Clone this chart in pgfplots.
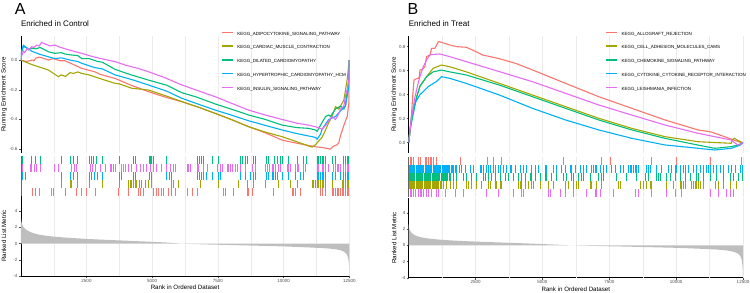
\documentclass[border=0pt]{standalone}
\usepackage{fontspec}
\setmainfont{Liberation Sans}
\usepackage{pgfplots}
\pgfplotsset{compat=1.18}

\definecolor{cR}{HTML}{F8766D}
\definecolor{cO}{HTML}{A3A500}
\definecolor{cG}{HTML}{00BF7D}
\definecolor{cB}{HTML}{00B0F6}
\definecolor{cP}{HTML}{E76BF3}
\definecolor{gridc}{HTML}{EBEBEB}
\definecolor{tickc}{HTML}{4D4D4D}
\definecolor{metric}{HTML}{BEBEBE}

\pgfplotsset{
  gsea/.style={
    scale only axis, enlargelimits=false, xmin=0, xmax=12500,
    anchor=south west, scaled x ticks=false, scaled y ticks=false,
    axis lines*=left, axis line style={-, line width=0.5pt, black},
    tick align=outside, major tick length=2.2pt,
    tick style={tickc, line width=0.4pt},
    xtick={2500,5000,7500,10000,12500},
    xmajorgrids,
    major grid style={gridc, line width=0.5pt},
    extra x ticks={1250,3750,6250,8750,11250},
    extra x tick labels={},
    extra x tick style={xmajorgrids, major grid style={gridc, line width=0.3pt}, major tick length=0pt},
    ticklabel style={font=\fontsize{4.5}{5}\selectfont, text=tickc},
    xticklabel style={inner sep=0.6pt},
    yticklabel style={inner sep=1pt},
    label style={font=\fontsize{6.2}{7}\selectfont},
  },
  nox/.style={x axis line style={draw=none}, xticklabels={}, xtick style={draw=none}},
  es/.style={line width=1.1pt},
  bc/.style={only marks, mark=|, mark size=3.6pt, mark options={line width=0.8pt}},
  leg/.style={
    legend cell align=left,
    legend image code/.code={\draw[##1, line width=1.4pt] (0pt,1.6pt) -- (11pt,1.6pt);},
    legend style={anchor=north west, draw=none, fill=none, inner sep=0pt,
      font=\fontsize{4.5}{5}\selectfont, row sep=9.3pt, column sep=4pt,
      nodes={inner sep=0pt, text height=3.3pt, text depth=0.9pt}},
  },
}

\begin{document}
\begin{tikzpicture}
\useasboundingbox (0pt,0pt) rectangle (750pt,292pt);
\node[anchor=base west, inner sep=0pt, font=\fontsize{16}{16}\selectfont] at (14.6pt,277pt) {A};
\node[anchor=base west, inner sep=0pt, font=\fontsize{16}{16}\selectfont] at (407.3pt,277pt) {B};

%================ PANEL A: running ES =================
\begin{axis}[gsea, nox, leg, at={(20.8pt,139pt)}, width=328.5pt, height=117pt,
  ymin=-0.626, ymax=0.162,
  ytick={-0.6,-0.4,-0.2,0}, yticklabels={-0.6,-0.4,-0.2,0.0},
  title={Enriched in Control},
  title style={at={(0,1)}, anchor=base west, yshift=3.7pt, inner sep=0pt, font=\fontsize{8}{9}\selectfont},
  ylabel={Running Enrichment Score},
  ylabel style={at={(axis description cs:-0.0511,0.5)}, anchor=center},
  legend style={at={(0.6085,1.0376)}}]
\addplot[es, cR] coordinates {(0,0) (200,-0.01) (439,0.0) (500,-0.005) (566,0.012) (693,0.02) (800,0.015) (1049,0.0) (1151,0.005) (1240,0.01) (1500,-0.005) (1684,-0.005) (2000,-0.03) (2320,-0.056) (2827,-0.08) (3000,-0.095) (3590,-0.124) (4200,-0.17) (4860,-0.213) (5500,-0.25) (6131,-0.281) (6800,-0.32) (7401,-0.359) (8000,-0.40) (8671,-0.449) (9300,-0.49) (9942,-0.539) (10500,-0.56) (11212,-0.584) (11500,-0.59) (11784,-0.60) (11900,-0.58) (12040,-0.57) (12101,-0.556) (12165,-0.51) (12292,-0.44) (12355,-0.41) (12420,-0.38) (12482,-0.29) (12500,0)};
\addlegendentry{KEGG\_ADIPOCYTOKINE\_SIGNALING\_PATHWAY}
\addplot[es, cO] coordinates {(0,0) (414,-0.03) (1049,-0.067) (1430,-0.112) (1532,-0.10) (1700,-0.11) (1875,-0.085) (2000,-0.09) (2167,-0.08) (2320,-0.09) (2600,-0.1) (3106,-0.13) (3590,-0.157) (3741,-0.16) (4225,-0.19) (4860,-0.202) (5500,-0.24) (6131,-0.28) (6800,-0.32) (7401,-0.36) (8000,-0.40) (8671,-0.449) (9300,-0.485) (9942,-0.516) (10500,-0.55) (10958,-0.579) (11085,-0.586) (11212,-0.57) (11466,-0.52) (11600,-0.47) (11720,-0.42) (11847,-0.38) (11974,-0.314) (12101,-0.33) (12292,-0.27) (12420,-0.13) (12500,0)};
\addlegendentry{KEGG\_CARDIAC\_MUSCLE\_CONTRACTION}
\addplot[es, cG] coordinates {(0,0) (30,0.05) (97,0.09) (200,0.085) (287,0.07) (414,0.08) (568,0.075) (732,0.085) (900,0.07) (1049,0.056) (1300,0.045) (1532,0.05) (1700,0.04) (1875,0.035) (2168,0.03) (2320,0.01) (2600,0.01) (2930,-0.01) (3106,-0.015) (3590,-0.063) (4200,-0.1) (4860,-0.135) (5560,-0.17) (6131,-0.22) (6700,-0.25) (7401,-0.296) (8000,-0.33) (8671,-0.37) (9300,-0.40) (9942,-0.438) (10500,-0.455) (10958,-0.46) (11212,-0.471) (11276,-0.48) (11400,-0.44) (11466,-0.42) (11600,-0.38) (11720,-0.37) (11784,-0.38) (11974,-0.33) (12165,-0.31) (12292,-0.33) (12355,-0.3) (12482,-0.13) (12500,0)};
\addlegendentry{KEGG\_DILATED\_CARDIOMYOPATHY}
\addplot[es, cB] coordinates {(0,0) (30,0.06) (97,0.10) (200,0.085) (414,0.06) (700,0.04) (1049,0.022) (1300,0.01) (1532,0.015) (1875,0.0) (2168,-0.01) (2320,-0.022) (2800,-0.05) (3106,-0.06) (3590,-0.10) (4288,-0.135) (4860,-0.168) (5558,-0.21) (6131,-0.258) (6800,-0.3) (7401,-0.337) (8000,-0.37) (8671,-0.409) (9300,-0.44) (9942,-0.471) (10500,-0.495) (11212,-0.521) (11276,-0.533) (11400,-0.5) (11466,-0.467) (11600,-0.43) (11720,-0.40) (11974,-0.38) (12229,-0.33) (12355,-0.31) (12482,-0.18) (12500,0)};
\addlegendentry{KEGG\_HYPERTROPHIC\_CARDIOMYOPATHY\_HCM}
\addplot[es, cP] coordinates {(0,0) (40,0.03) (97,0.06) (150,0.05) (250,0.08) (300,0.07) (414,0.09) (500,0.085) (600,0.10) (700,0.095) (795,0.119) (900,0.11) (1049,0.10) (1100,0.095) (1303,0.101) (1430,0.09) (1700,0.075) (2000,0.06) (2320,0.045) (2700,0.025) (3000,0.012) (3300,0.0) (3590,-0.011) (4000,-0.035) (4500,-0.058) (4860,-0.079) (5500,-0.12) (6130,-0.168) (6800,-0.21) (7400,-0.247) (8000,-0.29) (8670,-0.337) (9300,-0.37) (9940,-0.40) (10500,-0.425) (11000,-0.44) (11210,-0.449) (11466,-0.465) (11600,-0.44) (11720,-0.41) (11847,-0.38) (11974,-0.40) (12101,-0.36) (12165,-0.33) (12292,-0.31) (12355,-0.24) (12420,-0.2) (12482,-0.13) (12500,0)};
\addlegendentry{KEGG\_INSULIN\_SIGNALING\_PATHWAY}
\end{axis}

%================ PANEL A: barcodes =================
\begin{axis}[gsea, nox, at={(20.8pt,96pt)}, width=328.5pt, height=40pt,
  ymin=0, ymax=5, ytick=\empty, y axis line style={black!60}]
\addplot[cG, line width=0.9pt] coordinates {(0,0) (12500,0)};
\addplot[bc, cG] table[x index=0, y expr=4.5, header=false, row sep=\\] {58\\389\\566\\732\\1532\\1875\\2002\\2167\\2598\\2675\\2764\\2891\\3106\\3741\\4288\\4376\\4884\\4923\\4986\\5050\\5558\\6703\\6791\\6868\\6957\\7274\\7528\\8354\\8442\\8544\\8608\\8862\\8925\\9331\\9408\\9662\\9751\\9878\\9966\\10195\\10513\\10767\\10855\\11275\\11338\\11402\\11465\\11529\\11592\\11846\\11973\\12291\\12354\\12418\\12481\\};
\addplot[bc, cP] table[x index=0, y expr=3.5, header=false, row sep=\\] {58\\351\\414\\516\\604\\732\\1278\\1430\\1938\\2040\\2129\\2637\\2725\\2827\\3017\\3208\\3398\\3462\\3525\\3589\\3818\\3907\\3995\\4097\\4224\\4415\\4542\\4669\\4796\\4923\\5050\\5176\\5367\\5558\\5685\\5812\\5875\\6322\\6385\\6449\\6703\\6766\\6957\\7084\\7465\\7592\\7680\\7846\\7909\\7973\\8036\\8163\\8227\\8354\\8544\\8798\\8925\\9306\\9370\\9458\\9560\\9624\\9687\\9814\\9878\\10132\\10195\\10259\\10449\\10513\\10576\\10767\\10830\\11275\\11338\\11465\\11529\\11592\\11719\\11910\\11973\\12037\\12100\\12164\\12291\\12354\\12418\\12481\\};
\addplot[bc, cB] table[x index=0, y expr=2.5, header=false, row sep=\\] {58\\160\\1532\\1875\\2002\\2167\\2598\\2675\\2802\\2929\\3106\\3741\\3818\\4288\\4376\\4884\\4961\\5558\\5646\\5748\\6703\\6791\\6868\\6957\\7045\\7274\\7528\\7592\\8354\\8544\\8735\\8862\\8925\\9331\\9433\\9560\\9624\\9687\\9751\\9941\\10195\\10449\\10640\\10767\\11275\\11338\\11402\\11465\\11529\\11592\\11846\\11973\\12164\\12291\\12354\\12418\\12481\\};
\addplot[bc, cO] table[x index=0, y expr=1.5, header=false, row sep=\\] {1532\\1875\\1938\\2167\\2598\\3106\\3741\\4097\\4161\\4224\\4288\\4351\\4415\\4503\\4605\\4732\\4859\\4986\\5748\\5812\\6002\\6830\\7528\\8290\\8608\\8862\\9306\\9814\\10259\\10513\\11084\\11148\\11211\\11275\\11338\\11402\\11465\\11529\\11592\\11846\\12227\\12291\\12354\\12418\\12481\\};
\addplot[bc, cR] table[x index=0, y expr=0.5, header=false, row sep=\\] {439\\566\\693\\1151\\1240\\1684\\2129\\2319\\2510\\2827\\3716\\4097\\4478\\4542\\4669\\5050\\5176\\5240\\5367\\5431\\5621\\5748\\5875\\6322\\6512\\6703\\7719\\7782\\8100\\8608\\8671\\8798\\9624\\10322\\10386\\10449\\10640\\11402\\11465\\11592\\11846\\11910\\11973\\12037\\12100\\12164\\12227\\12291\\12354\\12418\\12481\\};
\end{axis}

%================ PANEL A: ranked list metric =================
\begin{axis}[gsea, at={(20.8pt,16pt)}, width=328.5pt, height=80pt,
  ymin=-4, ymax=5.875,
  ytick={-4,-2,0,2,4}, yticklabels={-4,-2,0,2,4},
  xticklabels={2500,5000,7500,10000,12500},
  ylabel={Ranked List Metric},
  ylabel style={at={(axis description cs:-0.0511,0.5)}, anchor=center},
  xlabel={Rank in Ordered Dataset},
  xlabel style={at={(axis description cs:0.5,0)}, anchor=center, yshift=-11.2pt}]
\addplot[fill=metric, draw=none] coordinates {(0,0) (0,3.5) (10,3.0) (30,2.6) (60,2.3) (100,2.05) (170,1.8) (260,1.6) (380,1.4) (520,1.25) (700,1.1) (900,1.0) (1200,0.88) (1600,0.77) (2000,0.68) (2500,0.58) (3000,0.5) (3500,0.43) (4000,0.36) (4500,0.29) (5000,0.22) (5500,0.14) (5900,0.05) (6100,0) (6500,-0.05) (7000,-0.1) (7500,-0.14) (8000,-0.18) (8500,-0.22) (9000,-0.26) (9500,-0.3) (10000,-0.35) (10500,-0.41) (11000,-0.48) (11500,-0.56) (11900,-0.66) (12150,-0.8) (12300,-1.0) (12400,-1.3) (12450,-1.7) (12480,-2.3) (12495,-3.0) (12500,-3.6) (12500,0)} -- cycle;
\end{axis}

%================ PANEL B: running ES =================
\begin{axis}[gsea, nox, leg, at={(408.7pt,139pt)}, width=334.3pt, height=117pt,
  ymin=-0.086, ymax=0.889,
  ytick={0,0.2,0.4,0.6,0.8}, yticklabels={0.0,0.2,0.4,0.6,0.8},
  title={Enriched in Treat},
  title style={at={(0,1)}, anchor=base west, yshift=3.7pt, inner sep=0pt, font=\fontsize{8}{9}\selectfont},
  ylabel={Running Enrichment Score},
  ylabel style={at={(axis description cs:-0.0434,0.5)}, anchor=center},
  legend style={at={(0.587,1.0376)}}]
\addplot[es, cR] coordinates {(0,0) (73,0.16) (110,0.25) (147,0.38) (197,0.52) (250,0.53) (358,0.536) (400,0.55) (420,0.605) (500,0.61) (606,0.633) (640,0.68) (668,0.717) (791,0.73) (830,0.76) (853,0.786) (977,0.786) (1039,0.81) (1101,0.84) (1140,0.842) (1534,0.814) (1800,0.80) (2153,0.795) (2500,0.76) (2773,0.73) (3392,0.70) (4011,0.66) (4630,0.606) (5868,0.494) (7107,0.383) (8345,0.286) (9583,0.189) (10822,0.106) (11300,0.09) (12060,0.03) (12370,0.005) (12500,0)};
\addlegendentry{KEGG\_ALLOGRAFT\_REJECTION}
\addplot[es, cO] coordinates {(0,0) (60,0.12) (172,0.27) (296,0.38) (420,0.47) (668,0.55) (915,0.62) (1225,0.647) (1534,0.633) (2153,0.59) (3392,0.494) (4630,0.397) (5868,0.30) (7107,0.203) (8345,0.119) (9583,0.05) (10822,0.008) (11565,0.0) (12060,-0.005) (12120,0.03) (12184,0.036) (12300,0.02) (12432,0.005) (12500,0)};
\addlegendentry{KEGG\_CELL\_ADHESION\_MOLECULES\_CAMS}
\addplot[es, cG] coordinates {(0,0) (60,0.12) (172,0.24) (296,0.38) (420,0.47) (668,0.55) (915,0.59) (1225,0.605) (1534,0.59) (2153,0.564) (3392,0.48) (4630,0.383) (5868,0.286) (7107,0.189) (8345,0.106) (9583,0.036) (10822,-0.02) (11441,-0.047) (12060,-0.033) (12308,-0.02) (12500,0)};
\addlegendentry{KEGG\_CHEMOKINE\_SIGNALING\_PATHWAY}
\addplot[es, cB] coordinates {(0,0) (50,0.1) (110,0.22) (234,0.33) (420,0.40) (544,0.425) (729,0.467) (1039,0.51) (1225,0.55) (1534,0.536) (2153,0.494) (3392,0.397) (4630,0.286) (5868,0.189) (7107,0.106) (8345,0.036) (9583,-0.019) (10822,-0.047) (11441,-0.061) (12060,-0.047) (12400,-0.02) (12500,0)};
\addlegendentry{KEGG\_CYTOKINE\_CYTOKINE\_RECEPTOR\_INTERACTION}
\addplot[es, cP] coordinates {(0,0) (60,0.12) (110,0.22) (172,0.30) (234,0.38) (296,0.44) (358,0.50) (420,0.55) (544,0.633) (606,0.66) (668,0.69) (791,0.73) (900,0.735) (1163,0.739) (1534,0.717) (2153,0.675) (3392,0.592) (4630,0.508) (5868,0.411) (7107,0.314) (8345,0.23) (9583,0.147) (10822,0.078) (12060,0.022) (12250,-0.01) (12308,-0.02) (12432,-0.01) (12500,0)};
\addlegendentry{KEGG\_LEISHMANIA\_INFECTION}
\end{axis}

%================ PANEL B: barcodes =================
\begin{axis}[gsea, nox, at={(408.7pt,95pt)}, width=334.3pt, height=40pt,
  ymin=0, ymax=5, ytick=\empty, y axis line style={black!60}]
\addplot[cR, line width=0.9pt] coordinates {(0,0) (12500,0)};
\addplot[bc, cR] table[x index=0, y expr=4.5, header=false, row sep=\\] {49\\111\\173\\360\\423\\610\\672\\734\\796\\859\\921\\1046\\1918\\2940\\3164\\3475\\5780\\7215\\7526\\9084\\10018\\11264\\12440\\};
\addplot[bc, cB] table[x index=0, y expr=3.5, header=false, row sep=\\] {20\\60\\100\\140\\185\\225\\270\\310\\350\\395\\440\\480\\520\\565\\610\\650\\690\\735\\780\\820\\860\\905\\950\\990\\1030\\1075\\1120\\1160\\1200\\1245\\1290\\1330\\1370\\1415\\1460\\1500\\1540\\1585\\1630\\1669\\1731\\1793\\1893\\1980\\2105\\2292\\2416\\2665\\2728\\2790\\2915\\2977\\3039\\3164\\3226\\3351\\3413\\3538\\3662\\3787\\3849\\3974\\4161\\4285\\4410\\4597\\4721\\4846\\5095\\5157\\5407\\5531\\5718\\5843\\6030\\6093\\6218\\6405\\6529\\6654\\6841\\6903\\6966\\7028\\7152\\7277\\7402\\7589\\7713\\7900\\8025\\8212\\8274\\8336\\8398\\8461\\8523\\8585\\8897\\8959\\9021\\9271\\9458\\9707\\9831\\9956\\10018\\10143\\10267\\10330\\10454\\10641\\10766\\10890\\11015\\11140\\11202\\11264\\11389\\11513\\11638\\11763\\11950\\12074\\12199\\12386\\12480\\};
\addplot[bc, cG] table[x index=0, y expr=2.5, header=false, row sep=\\] {20\\60\\100\\145\\190\\230\\270\\315\\360\\400\\440\\485\\530\\570\\610\\655\\700\\740\\780\\825\\870\\910\\950\\995\\1040\\1080\\1120\\1165\\1210\\1250\\1290\\1335\\1380\\1420\\1460\\1505\\1544\\1669\\1793\\2042\\2167\\2354\\2541\\2790\\2852\\2977\\3102\\3226\\3413\\3600\\3725\\3911\\4098\\4223\\4348\\4534\\4597\\4721\\4908\\5095\\5157\\5344\\5531\\5780\\5905\\6092\\6156\\6343\\6467\\6529\\6779\\7090\\7215\\7277\\7775\\8149\\8523\\8835\\8959\\9271\\9333\\9395\\9644\\9769\\9956\\10143\\10330\\10517\\10766\\10828\\11015\\11264\\11513\\11763\\12012\\12136\\12323\\12480\\};
\addplot[bc, cO] table[x index=0, y expr=1.5, header=false, row sep=\\] {20\\60\\100\\145\\190\\230\\270\\315\\360\\400\\440\\485\\530\\570\\610\\655\\700\\740\\780\\825\\870\\910\\950\\995\\1040\\1080\\1120\\1170\\1233\\1295\\1419\\1544\\1669\\1793\\2167\\2229\\2354\\2541\\2728\\2977\\3039\\3226\\3288\\3413\\3475\\4098\\4161\\4223\\4348\\4473\\4597\\4659\\4908\\5220\\5407\\5843\\5967\\6156\\6280\\6343\\6779\\6841\\7028\\7215\\7838\\7900\\8648\\8772\\8897\\9021\\9084\\9644\\9894\\10143\\10205\\10267\\10330\\10579\\10641\\10704\\10766\\10828\\10890\\11015\\11451\\11576\\11763\\12012\\12261\\};
\addplot[bc, cP] table[x index=0, y expr=0.5, header=false, row sep=\\] {49\\111\\173\\236\\360\\423\\485\\547\\672\\734\\859\\1046\\1108\\1357\\1731\\2042\\2915\\3351\\3911\\4223\\4285\\5220\\5282\\5656\\5843\\6156\\6654\\6966\\7028\\7152\\7651\\8461\\8585\\9084\\9644\\9956\\10205\\11264\\11576\\11887\\12012\\12136\\};
\end{axis}

%================ PANEL B: ranked list metric =================
\begin{axis}[gsea, at={(408.7pt,14.3pt)}, width=334.3pt, height=79.7pt,
  ymin=-4, ymax=5.84,
  ytick={-4,-2,0,2,4}, yticklabels={-4,-2,0,2,4},
  xticklabels={2500,5000,7500,10000,12500},
  ylabel={Ranked List Metric},
  ylabel style={at={(axis description cs:-0.0434,0.5)}, anchor=center},
  xlabel={Rank in Ordered Dataset},
  xlabel style={at={(axis description cs:0.5,0)}, anchor=center, yshift=-11.1pt}]
\addplot[fill=metric, draw=none] coordinates {(0,0) (0,2.6) (10,2.2) (30,1.95) (70,1.7) (120,1.5) (200,1.3) (300,1.15) (450,1.0) (650,0.88) (900,0.78) (1233,0.68) (1700,0.58) (2200,0.5) (2800,0.42) (3500,0.34) (4200,0.26) (4800,0.18) (5400,0.1) (5900,0.02) (6000,0) (6500,-0.04) (7000,-0.08) (7500,-0.12) (8000,-0.15) (8500,-0.19) (9000,-0.23) (9500,-0.27) (10000,-0.31) (10500,-0.37) (11000,-0.44) (11500,-0.52) (11900,-0.64) (12150,-0.8) (12300,-1.0) (12400,-1.3) (12450,-1.8) (12480,-2.5) (12495,-3.2) (12500,-3.8) (12500,0)} -- cycle;
\end{axis}
\end{tikzpicture}
\end{document}
